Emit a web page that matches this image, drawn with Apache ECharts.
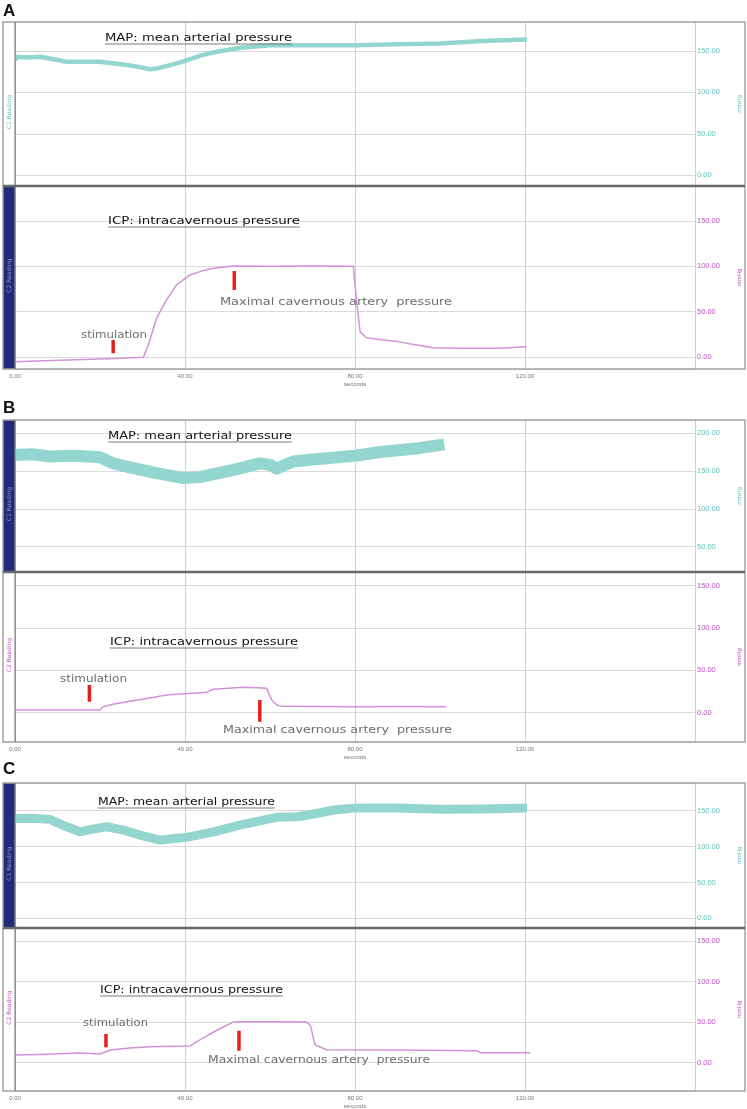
<!DOCTYPE html>
<html>
<head>
<meta charset="utf-8">
<script src="https://cdn.jsdelivr.net/npm/echarts@6/dist/echarts.min.js"></script>
<style>
  html, body { margin: 0; padding: 0; background: #fff; }
  #chart { width: 747px; height: 1109px; }
</style>
</head>
<body>
<div id="chart"></div>
<script>
// recordings: [seconds, mmHg]
const mapA = [[0,139],[0.5,143],[3,142],[5.9,143],[9,140],[12.2,137],[16,137],[20,137],[22.4,135.5],[25,134],[27.8,132],[31.8,128],[33.5,129],[35.8,132],[38,135],[40.5,139],[44,145],[47.5,149],[53,154],[60,157],[70,157],[80,157],[90,158],[100,159],[110,162],[120.5,164]]
const icpA = [[0,-5.2],[12.2,-3.3],[23.9,-1.5],[30.2,-0.3],[31.5,15],[33.3,42.7],[35.5,62],[38,79.5],[41.2,90.5],[44,95],[46.7,97.9],[51.4,100.4],[60,100],[70,100.5],[79.6,100],[80.4,60],[81.2,27.9],[82.7,21.3],[86.7,18.8],[90,17],[94.5,13.2],[98.4,10.3],[105,9.8],[114.1,9.6],[120.4,11.4]]

const mapB = [[0,171],[4,172],[8.2,169],[14,170],[20,168],[23.1,160],[27.8,153.7],[33.3,147],[39.6,140.5],[43.5,141.8],[47,146],[51.4,151.5],[57.6,160],[60,158],[61.6,153],[63.5,158],[65.5,162.4],[70,165],[74,167],[80,170],[86,175],[95,180],[101,185]]
const icpB = [[0,3.2],[20,3.2],[20.7,7],[23,10],[26.3,13],[30,16],[35.7,20.9],[40,22.5],[45.1,24.1],[46.6,27.6],[53.6,30],[57,29.5],[59.2,28.8],[60.4,15],[61.6,9.1],[63,7.5],[80,7],[90,7.3],[101.4,7.1]]

const mapC = [[0,139],[4,139.5],[8.2,137.9],[12.2,127.6],[15.3,120.6],[18,124],[21.6,127.6],[25.5,123],[29.4,116],[34.1,109],[37,111],[40.4,112.8],[46.7,120.6],[52.9,130],[57,135],[61.6,140.7],[66.3,141.6],[70,145],[75,151],[80,153.6],[90,153.6],[100,152],[110,152.5],[120.5,153.6]]
const icpC = [[0,9.5],[8,10.5],[15.3,12],[20,10.7],[22.4,15.6],[27,18],[31.8,19.7],[41.2,20.6],[43.5,28],[47.5,40],[51.3,50],[52.2,50.5],[60,50.5],[68.6,50],[69.5,46],[70.6,22],[73.3,16],[90,15.5],[108.6,14.8],[109.5,12.3],[121.2,12.3]]

// red arrows: stimulation and maximal pressure
const stimA = [[23.1,18.8],[23.1,4.1]]
const peakA = [[51.6,94.9],[51.6,74.0]]
const stimB = [[17.5,32.7],[17.5,13]]
const peakB = [[57.6,15],[57.6,-10.6]]
const stimC = [[21.4,35.3],[21.4,19]]
const peakC = [[52.7,39.4],[52.7,14.8]]

// axis ranges (mmHg) of each channel
const mapRanges = [[-13,185],[16.6,217.2],[-13.5,188.6]]
const icpRanges = [[-13.2,188.6],[-34.6,166.2],[-34.9,166]]

const MAP_COLOR = '#93d5cf'
const MAP_TEXT = '#5cc3be'
const ICP_COLOR = '#d291d8'
const ICP_TEXT = '#c24fc8'
const NAVY = '#1f2b7b'
const RED = '#e3231b'

const panels = [
  { letter: 'A', letterY: 3, top: 22, mid: 186, bottom: 369, map: mapA, icp: icpA, stim: stimA, peak: peakA, mapW: 4.5, navyTop: false },
  { letter: 'B', letterY: 400, top: 420, mid: 572, bottom: 742, map: mapB, icp: icpB, stim: stimB, peak: peakB, mapW: 12, navyTop: true },
  { letter: 'C', letterY: 761, top: 783, mid: 928, bottom: 1091, map: mapC, icp: icpC, stim: stimC, peak: peakC, mapW: 9, navyTop: true }
]

// text labels placed on the recordings
const notes = [
  // A
  { t: 'MAP: mean arterial pressure', x: 105, y: 38, w: 187, kind: 'title' },
  { t: 'ICP: intracavernous pressure', x: 108, y: 221, w: 192, kind: 'title' },
  { t: 'stimulation', x: 81, y: 335, w: 66, kind: 'note' },
  { t: 'Maximal cavernous artery  pressure', x: 220, y: 302, w: 232, kind: 'note' },
  // B
  { t: 'MAP: mean arterial pressure', x: 108, y: 436, w: 184, kind: 'title' },
  { t: 'ICP: intracavernous pressure', x: 110, y: 642, w: 188, kind: 'title' },
  { t: 'stimulation', x: 60, y: 679, w: 67, kind: 'note' },
  { t: 'Maximal cavernous artery  pressure', x: 223, y: 730, w: 229, kind: 'note' },
  // C
  { t: 'MAP: mean arterial pressure', x: 98, y: 802, w: 177, kind: 'title' },
  { t: 'ICP: intracavernous pressure', x: 100, y: 990, w: 183, kind: 'title' },
  { t: 'stimulation', x: 83, y: 1023, w: 65, kind: 'note' },
  { t: 'Maximal cavernous artery  pressure', x: 208, y: 1060, w: 222, kind: 'note' }
]

const measure = document.createElement('canvas').getContext('2d')
function textWidth(text, font) {
  measure.font = font
  return measure.measureText(text).width
}

const chart = echarts.init(document.getElementById('chart'))

const grids = []
const xAxes = []
const yAxes = []
const series = []
const graphics = []

panels.forEach(function(p, i) {
  const rows = [
    { top: p.top, height: p.mid - p.top, data: p.map, range: mapRanges[i], color: MAP_COLOR, text: MAP_TEXT, width: p.mapW, bottomRow: false },
    { top: p.mid, height: p.bottom - p.mid, data: p.icp, range: icpRanges[i], color: ICP_COLOR, text: ICP_TEXT, width: 1.5, bottomRow: true }
  ]
  rows.forEach(function(r) {
    const g = grids.length
    grids.push({ left: 15, right: 52, top: r.top, height: r.height, outerBoundsMode: 'none', containLabel: false })
    xAxes.push({
      type: 'value',
      gridIndex: g,
      min: 0,
      max: 160,
      interval: 40,
      axisLine: { show: false },
      axisTick: { show: false },
      axisLabel: {
        show: r.bottomRow,
        fontSize: 6,
        color: '#777',
        margin: 4,
        showMaxLabel: false,
        formatter: function(v) { return v.toFixed(2) }
      },
      splitLine: { show: true, lineStyle: { color: '#cfcfcf', width: 1 } },
      name: r.bottomRow ? 'seconds' : '',
      nameLocation: 'middle',
      nameGap: 12,
      nameTextStyle: { fontSize: 6, color: '#777' }
    })
    yAxes.push({
      type: 'value',
      gridIndex: g,
      position: 'right',
      min: r.range[0],
      max: r.range[1],
      splitNumber: 4,
      axisLine: { show: true, lineStyle: { color: '#8c8c8c', width: 1.5 } },
      axisTick: { show: false },
      axisLabel: {
        fontSize: 7.5,
        color: r.text,
        margin: 2,
        showMinLabel: false,
        showMaxLabel: false,
        formatter: function(v) { return v.toFixed(2) }
      },
      splitLine: { show: true, lineStyle: { color: '#dadada', width: 1 } },
      name: 'mmHg',
      nameLocation: 'middle',
      nameGap: 41,
      nameTextStyle: { fontSize: 6, color: r.text }
    })
    series.push({
      type: 'line',
      xAxisIndex: g,
      yAxisIndex: g,
      data: r.data,
      showSymbol: false,
      silent: true,
      lineStyle: { color: r.color, width: r.width, join: 'round' },
      z: 3
    })
    if (r.bottomRow) {
      [p.stim, p.peak].forEach(function(m) {
        series.push({
          type: 'line',
          xAxisIndex: g,
          yAxisIndex: g,
          data: m,
          showSymbol: false,
          silent: true,
          lineStyle: { color: RED, width: 3.5, cap: 'butt' },
          z: 4
        })
      })
    }
  })

  // recording frame, channel strips, separator
  const stripTop = p.navyTop ? NAVY : '#fff'
  const stripBot = p.navyTop ? '#fff' : NAVY
  graphics.push(
    { type: 'rect', shape: { x: 3, y: p.top, width: 12, height: p.mid - p.top }, style: { fill: stripTop }, z: 20 },
    { type: 'rect', shape: { x: 3, y: p.mid, width: 12, height: p.bottom - p.mid }, style: { fill: stripBot }, z: 20 },
    { type: 'rect', shape: { x: 3, y: p.top, width: 742, height: p.bottom - p.top }, style: { fill: null, stroke: '#a3a3a3', lineWidth: 1.5 }, z: 21 },
    { type: 'line', shape: { x1: 15, y1: p.top, x2: 15, y2: p.bottom }, style: { stroke: '#8c8c8c', lineWidth: 1.2 }, z: 21 },
    { type: 'line', shape: { x1: 3, y1: p.mid, x2: 745, y2: p.mid }, style: { stroke: '#6a6a6a', lineWidth: 2.5 }, z: 22 },
    {
      type: 'text', x: 9, y: (p.top + p.mid) / 2 + 8, rotation: Math.PI / 2, z: 23,
      style: { text: 'C1 Reading', fill: p.navyTop ? '#8c93c4' : MAP_TEXT, font: '6px "DejaVu Sans"', align: 'center', verticalAlign: 'middle' }
    },
    {
      type: 'text', x: 9, y: (p.mid + p.bottom) / 2 - 2, rotation: Math.PI / 2, z: 23,
      style: { text: 'C2 Reading', fill: p.navyTop ? ICP_TEXT : '#8c93c4', font: '6px "DejaVu Sans"', align: 'center', verticalAlign: 'middle' }
    },
    {
      type: 'text', x: 3, y: p.letterY, z: 23,
      style: { text: p.letter, fill: '#111', font: 'bold 17px "Liberation Sans", Arial', verticalAlign: 'top' }
    }
  )
})

notes.forEach(function(n) {
  const title = n.kind === 'title'
  const font = '10px "DejaVu Sans"'
  const sx = n.w / textWidth(n.t, font)
  graphics.push({
    type: 'text', x: n.x, y: n.y, scaleX: sx, z: 24,
    style: { text: n.t, font: font, fill: title ? '#111' : '#6e6e6e', verticalAlign: 'middle' }
  })
  if (title) {
    graphics.push({
      type: 'line', z: 24,
      shape: { x1: n.x, y1: n.y + 6, x2: n.x + n.w, y2: n.y + 6 },
      style: { stroke: '#7a7a7a', lineWidth: 1 }
    })
  }
})

chart.setOption({
  animation: false,
  backgroundColor: '#fff',
  grid: grids,
  xAxis: xAxes,
  yAxis: yAxes,
  series: series,
  graphic: graphics
})
</script>
</body>
</html>
